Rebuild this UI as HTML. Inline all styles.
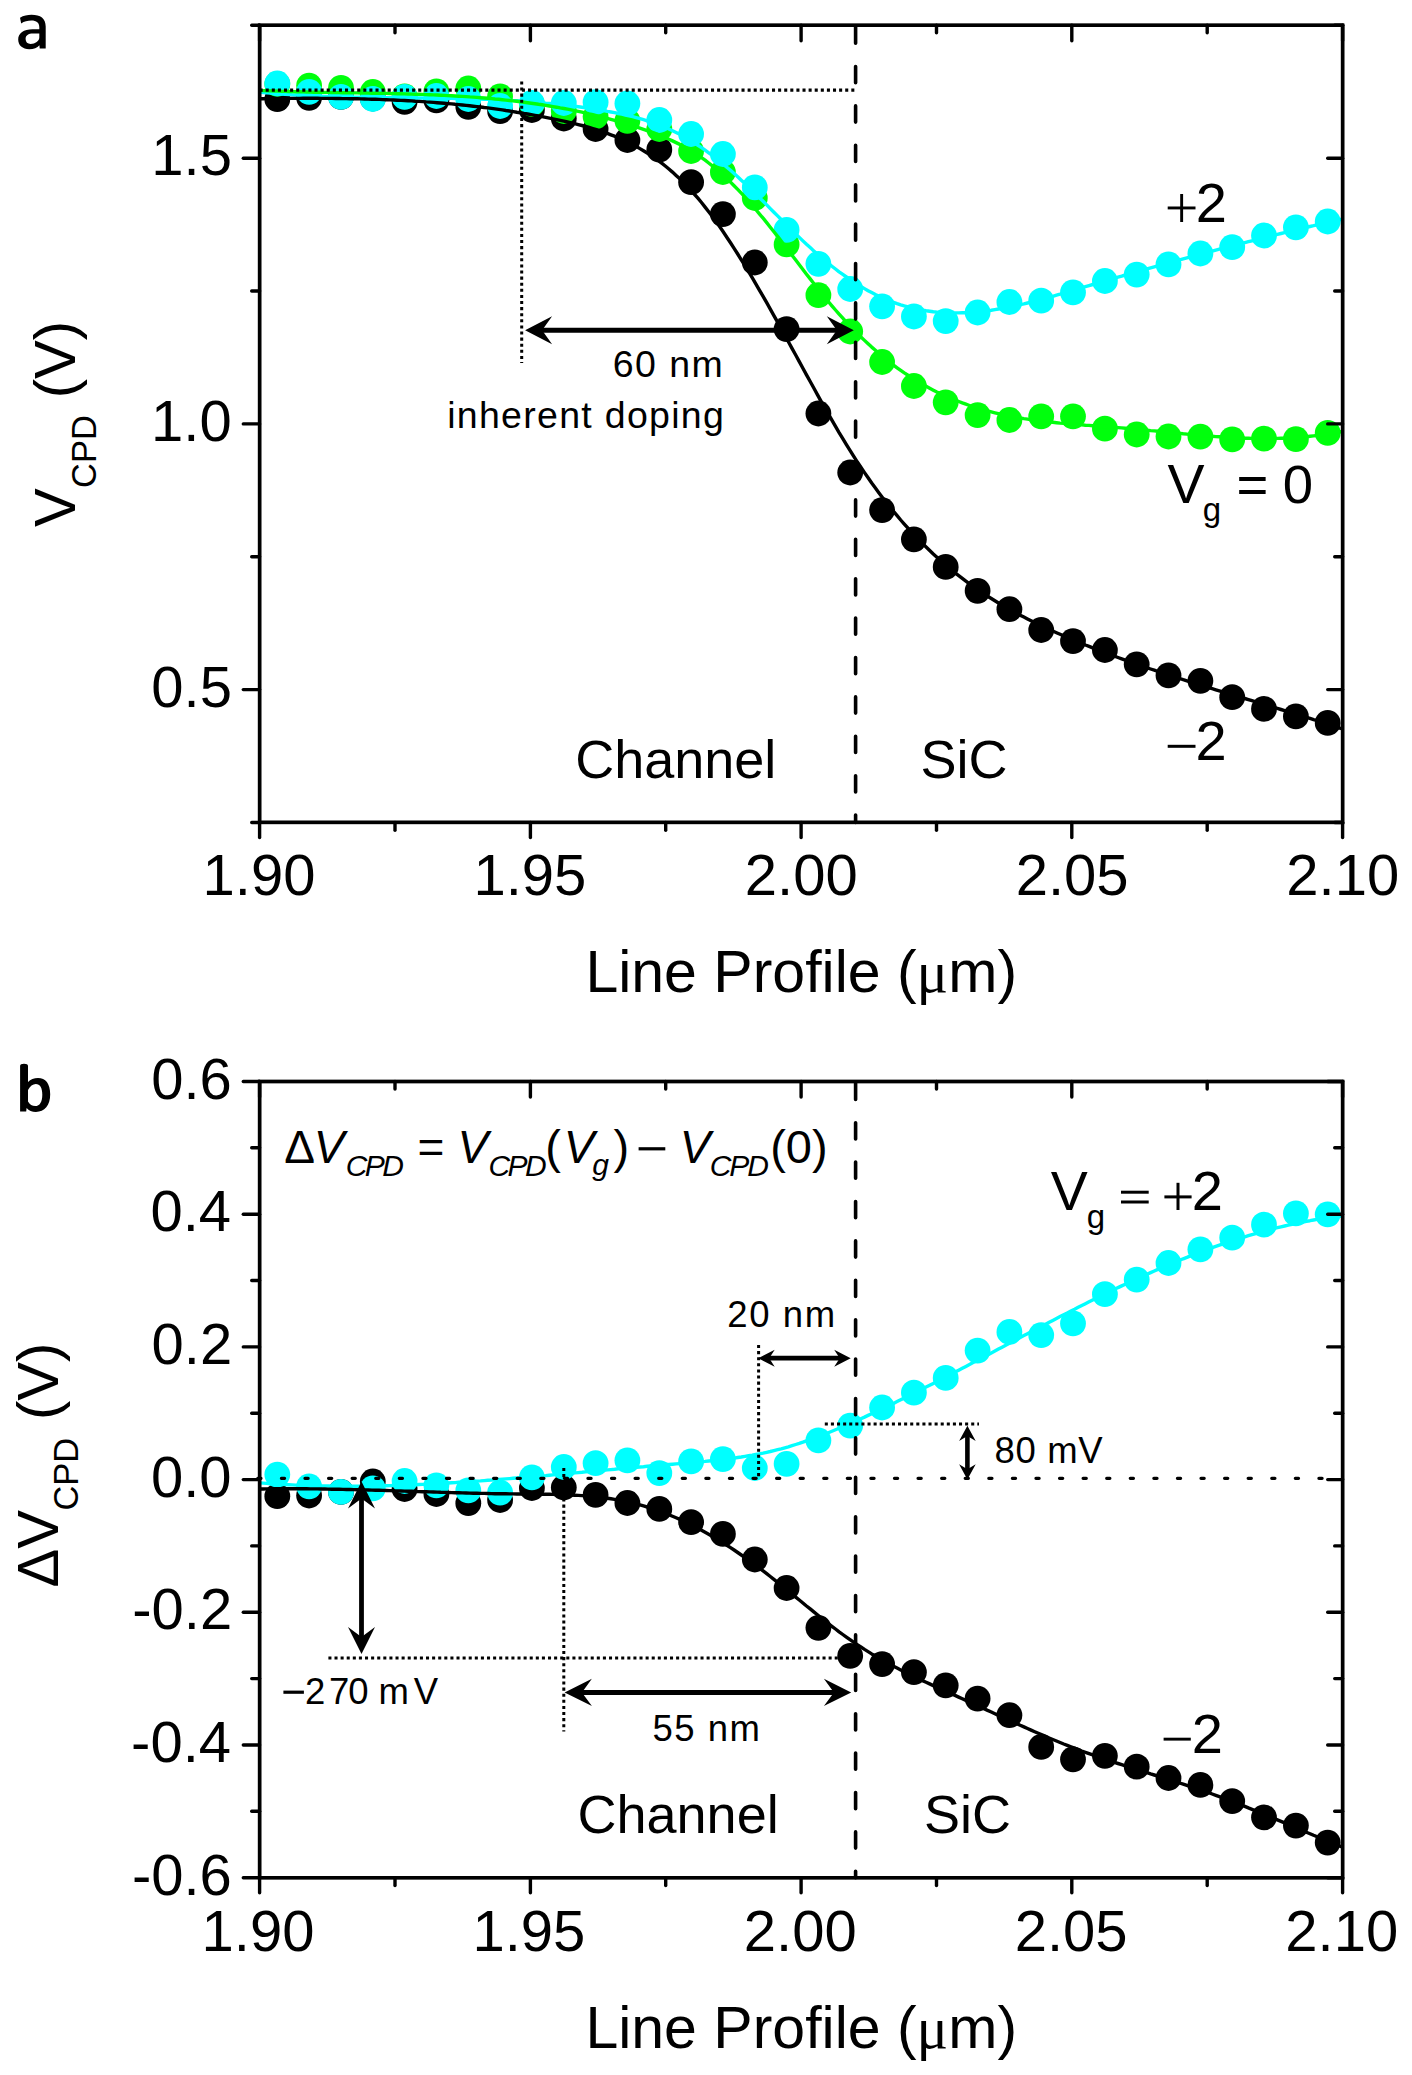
<!DOCTYPE html>
<html><head><meta charset="utf-8"><style>
html,body{margin:0;padding:0;background:#fff;width:1412px;height:2075px;overflow:hidden;}
svg{display:block;font-family:"Liberation Sans",sans-serif;}
</style></head><body>
<svg width="1412" height="2075" viewBox="0 0 1412 2075" font-family="Liberation Sans, sans-serif" fill="#000">
<rect width="1412" height="2075" fill="#fff"/>
<circle cx="277.3" cy="99.2" r="12.9" fill="#000"/><circle cx="309.1" cy="97.8" r="12.9" fill="#000"/><circle cx="341.0" cy="96.8" r="12.9" fill="#000"/><circle cx="372.8" cy="98.5" r="12.9" fill="#000"/><circle cx="404.6" cy="101.8" r="12.9" fill="#000"/><circle cx="436.4" cy="100.4" r="12.9" fill="#000"/><circle cx="468.3" cy="106.8" r="12.9" fill="#000"/><circle cx="500.1" cy="111.1" r="12.9" fill="#000"/><circle cx="531.9" cy="110.0" r="12.9" fill="#000"/><circle cx="563.8" cy="118.5" r="12.9" fill="#000"/><circle cx="595.6" cy="129.0" r="12.9" fill="#000"/><circle cx="627.4" cy="140.0" r="12.9" fill="#000"/><circle cx="659.3" cy="149.7" r="12.9" fill="#000"/><circle cx="691.1" cy="182.2" r="12.9" fill="#000"/><circle cx="722.9" cy="214.1" r="12.9" fill="#000"/><circle cx="754.8" cy="262.5" r="12.9" fill="#000"/><circle cx="786.6" cy="329.1" r="12.9" fill="#000"/><circle cx="818.4" cy="413.5" r="12.9" fill="#000"/><circle cx="850.2" cy="472.5" r="12.9" fill="#000"/><circle cx="882.1" cy="510.1" r="12.9" fill="#000"/><circle cx="913.9" cy="539.3" r="12.9" fill="#000"/><circle cx="945.7" cy="566.9" r="12.9" fill="#000"/><circle cx="977.6" cy="590.8" r="12.9" fill="#000"/><circle cx="1009.4" cy="609.2" r="12.9" fill="#000"/><circle cx="1041.2" cy="630.0" r="12.9" fill="#000"/><circle cx="1073.0" cy="641.1" r="12.9" fill="#000"/><circle cx="1104.9" cy="650.0" r="12.9" fill="#000"/><circle cx="1136.7" cy="664.3" r="12.9" fill="#000"/><circle cx="1168.5" cy="675.4" r="12.9" fill="#000"/><circle cx="1200.4" cy="680.8" r="12.9" fill="#000"/><circle cx="1232.2" cy="697.2" r="12.9" fill="#000"/><circle cx="1264.0" cy="708.9" r="12.9" fill="#000"/><circle cx="1295.9" cy="716.4" r="12.9" fill="#000"/><circle cx="1327.7" cy="722.9" r="12.9" fill="#000"/>
<circle cx="277.3" cy="84.0" r="12.9" fill="#00FF0C"/><circle cx="309.1" cy="85.6" r="12.9" fill="#00FF0C"/><circle cx="341.0" cy="87.8" r="12.9" fill="#00FF0C"/><circle cx="372.8" cy="92.0" r="12.9" fill="#00FF0C"/><circle cx="404.6" cy="96.3" r="12.9" fill="#00FF0C"/><circle cx="436.4" cy="91.3" r="12.9" fill="#00FF0C"/><circle cx="468.3" cy="88.5" r="12.9" fill="#00FF0C"/><circle cx="500.1" cy="96.3" r="12.9" fill="#00FF0C"/><circle cx="531.9" cy="104.0" r="12.9" fill="#00FF0C"/><circle cx="563.8" cy="111.0" r="12.9" fill="#00FF0C"/><circle cx="595.6" cy="116.5" r="12.9" fill="#00FF0C"/><circle cx="627.4" cy="120.8" r="12.9" fill="#00FF0C"/><circle cx="659.3" cy="129.0" r="12.9" fill="#00FF0C"/><circle cx="691.1" cy="151.0" r="12.9" fill="#00FF0C"/><circle cx="722.9" cy="172.0" r="12.9" fill="#00FF0C"/><circle cx="754.8" cy="198.0" r="12.9" fill="#00FF0C"/><circle cx="786.6" cy="244.4" r="12.9" fill="#00FF0C"/><circle cx="818.4" cy="295.1" r="12.9" fill="#00FF0C"/><circle cx="850.2" cy="331.5" r="12.9" fill="#00FF0C"/><circle cx="882.1" cy="362.0" r="12.9" fill="#00FF0C"/><circle cx="913.9" cy="386.0" r="12.9" fill="#00FF0C"/><circle cx="945.7" cy="402.3" r="12.9" fill="#00FF0C"/><circle cx="977.6" cy="415.1" r="12.9" fill="#00FF0C"/><circle cx="1009.4" cy="420.0" r="12.9" fill="#00FF0C"/><circle cx="1041.2" cy="416.3" r="12.9" fill="#00FF0C"/><circle cx="1073.0" cy="416.3" r="12.9" fill="#00FF0C"/><circle cx="1104.9" cy="428.7" r="12.9" fill="#00FF0C"/><circle cx="1136.7" cy="434.5" r="12.9" fill="#00FF0C"/><circle cx="1168.5" cy="436.5" r="12.9" fill="#00FF0C"/><circle cx="1200.4" cy="436.6" r="12.9" fill="#00FF0C"/><circle cx="1232.2" cy="439.4" r="12.9" fill="#00FF0C"/><circle cx="1264.0" cy="438.6" r="12.9" fill="#00FF0C"/><circle cx="1295.9" cy="439.1" r="12.9" fill="#00FF0C"/><circle cx="1327.7" cy="432.9" r="12.9" fill="#00FF0C"/>
<circle cx="277.3" cy="83.5" r="12.9" fill="#00FFFF"/><circle cx="309.1" cy="91.9" r="12.9" fill="#00FFFF"/><circle cx="341.0" cy="96.9" r="12.9" fill="#00FFFF"/><circle cx="372.8" cy="99.0" r="12.9" fill="#00FFFF"/><circle cx="404.6" cy="96.9" r="12.9" fill="#00FFFF"/><circle cx="436.4" cy="96.0" r="12.9" fill="#00FFFF"/><circle cx="468.3" cy="99.0" r="12.9" fill="#00FFFF"/><circle cx="500.1" cy="106.0" r="12.9" fill="#00FFFF"/><circle cx="531.9" cy="103.0" r="12.9" fill="#00FFFF"/><circle cx="563.8" cy="103.0" r="12.9" fill="#00FFFF"/><circle cx="595.6" cy="102.2" r="12.9" fill="#00FFFF"/><circle cx="627.4" cy="103.5" r="12.9" fill="#00FFFF"/><circle cx="659.3" cy="120.0" r="12.9" fill="#00FFFF"/><circle cx="691.1" cy="134.0" r="12.9" fill="#00FFFF"/><circle cx="722.9" cy="154.0" r="12.9" fill="#00FFFF"/><circle cx="754.8" cy="187.4" r="12.9" fill="#00FFFF"/><circle cx="786.6" cy="229.8" r="12.9" fill="#00FFFF"/><circle cx="818.4" cy="263.8" r="12.9" fill="#00FFFF"/><circle cx="850.2" cy="289.0" r="12.9" fill="#00FFFF"/><circle cx="882.1" cy="306.3" r="12.9" fill="#00FFFF"/><circle cx="913.9" cy="316.5" r="12.9" fill="#00FFFF"/><circle cx="945.7" cy="321.1" r="12.9" fill="#00FFFF"/><circle cx="977.6" cy="312.5" r="12.9" fill="#00FFFF"/><circle cx="1009.4" cy="302.0" r="12.9" fill="#00FFFF"/><circle cx="1041.2" cy="300.7" r="12.9" fill="#00FFFF"/><circle cx="1073.0" cy="292.4" r="12.9" fill="#00FFFF"/><circle cx="1104.9" cy="281.0" r="12.9" fill="#00FFFF"/><circle cx="1136.7" cy="274.6" r="12.9" fill="#00FFFF"/><circle cx="1168.5" cy="264.4" r="12.9" fill="#00FFFF"/><circle cx="1200.4" cy="253.5" r="12.9" fill="#00FFFF"/><circle cx="1232.2" cy="247.1" r="12.9" fill="#00FFFF"/><circle cx="1264.0" cy="235.5" r="12.9" fill="#00FFFF"/><circle cx="1295.9" cy="227.3" r="12.9" fill="#00FFFF"/><circle cx="1327.7" cy="221.5" r="12.9" fill="#00FFFF"/>
<path d="M259.6,92.1 L263.2,92.5 L266.8,92.8 L270.5,93.1 L274.1,93.4 L277.7,93.7 L281.3,94.0 L285.0,94.3 L288.6,94.5 L292.2,94.8 L295.8,95.0 L299.4,95.2 L303.1,95.4 L306.7,95.6 L310.3,95.8 L313.9,95.9 L317.6,96.1 L321.2,96.2 L324.8,96.4 L328.4,96.5 L332.0,96.6 L335.7,96.7 L339.3,96.9 L342.9,97.0 L346.5,97.0 L350.2,97.1 L353.8,97.2 L357.4,97.3 L361.0,97.3 L364.6,97.4 L368.3,97.5 L371.9,97.5 L375.5,97.6 L379.1,97.6 L382.8,97.6 L386.4,97.7 L390.0,97.7 L393.6,97.8 L397.2,97.8 L400.9,97.8 L404.5,97.9 L408.1,97.9 L411.7,97.9 L415.3,98.0 L419.0,98.0 L422.6,98.0 L426.2,98.1 L429.8,98.1 L433.5,98.2 L437.1,98.2 L440.7,98.3 L444.3,98.3 L447.9,98.4 L451.6,98.4 L455.2,98.5 L458.8,98.6 L462.4,98.6 L466.1,98.7 L469.7,98.8 L473.3,98.9 L476.9,99.0 L480.5,99.1 L484.2,99.3 L487.8,99.4 L491.4,99.5 L495.0,99.7 L498.7,99.9 L502.3,100.0 L505.9,100.2 L509.5,100.4 L513.1,100.6 L516.8,100.8 L520.4,101.1 L524.0,101.3 L527.6,101.6 L531.3,101.8 L534.9,102.1 L538.5,102.4 L542.1,102.7 L545.7,103.1 L549.4,103.4 L553.0,103.8 L556.6,104.1 L560.2,104.5 L563.9,104.9 L567.5,105.4 L571.1,105.8 L574.7,106.3 L578.3,106.8 L582.0,107.3 L585.6,107.8 L589.2,108.3 L592.8,108.9 L596.5,109.5 L600.1,110.1 L603.7,110.7 L607.3,111.4 L610.9,112.0 L614.6,112.7 L618.2,113.5 L621.8,114.2 L625.4,115.0 L629.1,115.9 L632.7,116.7 L636.3,117.7 L639.9,118.7 L643.5,119.7 L647.2,120.8 L650.8,122.0 L654.4,123.2 L658.0,124.6 L661.7,126.0 L665.3,127.5 L668.9,129.0 L672.5,130.7 L676.1,132.5 L679.8,134.3 L683.4,136.3 L687.0,138.4 L690.6,140.6 L694.2,142.8 L697.9,145.2 L701.5,147.6 L705.1,150.2 L708.7,152.8 L712.4,155.5 L716.0,158.3 L719.6,161.2 L723.2,164.2 L726.8,167.2 L730.5,170.3 L734.1,173.6 L737.7,176.8 L741.3,180.2 L745.0,183.6 L748.6,187.1 L752.2,190.6 L755.8,194.1 L759.4,197.7 L763.1,201.3 L766.7,204.9 L770.3,208.6 L773.9,212.2 L777.6,215.9 L781.2,219.5 L784.8,223.1 L788.4,226.8 L792.0,230.3 L795.7,233.9 L799.3,237.4 L802.9,240.9 L806.5,244.3 L810.2,247.6 L813.8,250.9 L817.4,254.1 L821.0,257.3 L824.6,260.3 L828.3,263.3 L831.9,266.2 L835.5,269.0 L839.1,271.8 L842.8,274.4 L846.4,277.0 L850.0,279.5 L853.6,281.9 L857.2,284.2 L860.9,286.5 L864.5,288.6 L868.1,290.7 L871.7,292.6 L875.4,294.5 L879.0,296.2 L882.6,297.9 L886.2,299.5 L889.8,300.9 L893.5,302.3 L897.1,303.6 L900.7,304.8 L904.3,305.9 L908.0,306.9 L911.6,307.8 L915.2,308.7 L918.8,309.4 L922.4,310.1 L926.1,310.7 L929.7,311.2 L933.3,311.7 L936.9,312.1 L940.5,312.4 L944.2,312.6 L947.8,312.8 L951.4,312.9 L955.0,312.9 L958.7,312.9 L962.3,312.8 L965.9,312.7 L969.5,312.5 L973.1,312.2 L976.8,311.9 L980.4,311.6 L984.0,311.1 L987.6,310.7 L991.3,310.2 L994.9,309.6 L998.5,309.0 L1002.1,308.4 L1005.7,307.7 L1009.4,307.0 L1013.0,306.3 L1016.6,305.5 L1020.2,304.7 L1023.9,303.9 L1027.5,303.0 L1031.1,302.1 L1034.7,301.2 L1038.3,300.2 L1042.0,299.3 L1045.6,298.3 L1049.2,297.3 L1052.8,296.3 L1056.5,295.2 L1060.1,294.2 L1063.7,293.1 L1067.3,292.1 L1070.9,291.0 L1074.6,289.9 L1078.2,288.8 L1081.8,287.8 L1085.4,286.7 L1089.1,285.6 L1092.7,284.5 L1096.3,283.5 L1099.9,282.4 L1103.5,281.3 L1107.2,280.3 L1110.8,279.2 L1114.4,278.2 L1118.0,277.1 L1121.7,276.1 L1125.3,275.0 L1128.9,274.0 L1132.5,272.9 L1136.1,271.9 L1139.8,270.9 L1143.4,269.9 L1147.0,268.8 L1150.6,267.8 L1154.3,266.8 L1157.9,265.8 L1161.5,264.8 L1165.1,263.8 L1168.7,262.8 L1172.4,261.8 L1176.0,260.8 L1179.6,259.8 L1183.2,258.8 L1186.9,257.8 L1190.5,256.9 L1194.1,255.9 L1197.7,254.9 L1201.3,254.0 L1205.0,253.0 L1208.6,252.0 L1212.2,251.1 L1215.8,250.1 L1219.4,249.2 L1223.1,248.2 L1226.7,247.3 L1230.3,246.3 L1233.9,245.4 L1237.6,244.5 L1241.2,243.5 L1244.8,242.6 L1248.4,241.7 L1252.0,240.8 L1255.7,239.9 L1259.3,238.9 L1262.9,238.0 L1266.5,237.1 L1270.2,236.2 L1273.8,235.3 L1277.4,234.4 L1281.0,233.5 L1284.6,232.7 L1288.3,231.8 L1291.9,230.9 L1295.5,230.0 L1299.1,229.1 L1302.8,228.3 L1306.4,227.4 L1310.0,226.5 L1313.6,225.7 L1317.2,224.8 L1320.9,224.0 L1324.5,223.1 L1328.1,222.3 L1331.7,221.4 L1335.4,220.6 L1339.0,219.8 L1342.6,218.9" fill="none" stroke="#00FFFF" stroke-width="3.4" stroke-linejoin="round"/>
<path d="M259.6,90.4 L263.2,90.6 L266.8,90.7 L270.5,90.9 L274.1,91.0 L277.7,91.1 L281.3,91.3 L285.0,91.4 L288.6,91.5 L292.2,91.6 L295.8,91.7 L299.4,91.8 L303.1,91.9 L306.7,92.0 L310.3,92.1 L313.9,92.2 L317.6,92.2 L321.2,92.3 L324.8,92.4 L328.4,92.4 L332.0,92.5 L335.7,92.6 L339.3,92.6 L342.9,92.7 L346.5,92.7 L350.2,92.8 L353.8,92.9 L357.4,92.9 L361.0,93.0 L364.6,93.0 L368.3,93.1 L371.9,93.2 L375.5,93.2 L379.1,93.3 L382.8,93.4 L386.4,93.4 L390.0,93.5 L393.6,93.6 L397.2,93.7 L400.9,93.8 L404.5,93.9 L408.1,94.0 L411.7,94.1 L415.3,94.2 L419.0,94.3 L422.6,94.4 L426.2,94.6 L429.8,94.7 L433.5,94.9 L437.1,95.0 L440.7,95.2 L444.3,95.4 L447.9,95.6 L451.6,95.8 L455.2,96.0 L458.8,96.2 L462.4,96.4 L466.1,96.6 L469.7,96.9 L473.3,97.1 L476.9,97.4 L480.5,97.7 L484.2,98.0 L487.8,98.3 L491.4,98.6 L495.0,99.0 L498.7,99.3 L502.3,99.7 L505.9,100.1 L509.5,100.5 L513.1,100.9 L516.8,101.3 L520.4,101.8 L524.0,102.2 L527.6,102.7 L531.3,103.2 L534.9,103.7 L538.5,104.3 L542.1,104.8 L545.7,105.4 L549.4,106.0 L553.0,106.6 L556.6,107.2 L560.2,107.9 L563.9,108.5 L567.5,109.2 L571.1,109.9 L574.7,110.7 L578.3,111.4 L582.0,112.2 L585.6,113.0 L589.2,113.9 L592.8,114.7 L596.5,115.6 L600.1,116.5 L603.7,117.4 L607.3,118.4 L610.9,119.3 L614.6,120.3 L618.2,121.4 L621.8,122.4 L625.4,123.5 L629.1,124.6 L632.7,125.8 L636.3,126.9 L639.9,128.1 L643.5,129.3 L647.2,130.6 L650.8,131.9 L654.4,133.2 L658.0,134.6 L661.7,136.1 L665.3,137.6 L668.9,139.2 L672.5,140.9 L676.1,142.6 L679.8,144.4 L683.4,146.4 L687.0,148.4 L690.6,150.5 L694.2,152.8 L697.9,155.1 L701.5,157.6 L705.1,160.2 L708.7,163.0 L712.4,165.9 L716.0,168.9 L719.6,172.0 L723.2,175.2 L726.8,178.6 L730.5,182.1 L734.1,185.7 L737.7,189.4 L741.3,193.2 L745.0,197.1 L748.6,201.1 L752.2,205.2 L755.8,209.5 L759.4,213.8 L763.1,218.2 L766.7,222.6 L770.3,227.2 L773.9,231.8 L777.6,236.4 L781.2,241.1 L784.8,245.8 L788.4,250.5 L792.0,255.3 L795.7,260.0 L799.3,264.8 L802.9,269.5 L806.5,274.2 L810.2,278.9 L813.8,283.5 L817.4,288.1 L821.0,292.6 L824.6,297.1 L828.3,301.5 L831.9,305.8 L835.5,310.0 L839.1,314.1 L842.8,318.2 L846.4,322.1 L850.0,325.9 L853.6,329.7 L857.2,333.4 L860.9,336.9 L864.5,340.4 L868.1,343.8 L871.7,347.1 L875.4,350.3 L879.0,353.5 L882.6,356.5 L886.2,359.5 L889.8,362.3 L893.5,365.1 L897.1,367.8 L900.7,370.4 L904.3,372.9 L908.0,375.3 L911.6,377.7 L915.2,380.0 L918.8,382.2 L922.4,384.3 L926.1,386.3 L929.7,388.3 L933.3,390.2 L936.9,392.0 L940.5,393.7 L944.2,395.4 L947.8,397.1 L951.4,398.6 L955.0,400.1 L958.7,401.5 L962.3,402.9 L965.9,404.2 L969.5,405.5 L973.1,406.7 L976.8,407.8 L980.4,408.9 L984.0,410.0 L987.6,410.9 L991.3,411.9 L994.9,412.8 L998.5,413.7 L1002.1,414.5 L1005.7,415.3 L1009.4,416.0 L1013.0,416.7 L1016.6,417.3 L1020.2,418.0 L1023.9,418.6 L1027.5,419.1 L1031.1,419.7 L1034.7,420.2 L1038.3,420.7 L1042.0,421.1 L1045.6,421.5 L1049.2,421.9 L1052.8,422.3 L1056.5,422.7 L1060.1,423.1 L1063.7,423.4 L1067.3,423.7 L1070.9,424.0 L1074.6,424.3 L1078.2,424.6 L1081.8,424.9 L1085.4,425.2 L1089.1,425.4 L1092.7,425.7 L1096.3,426.0 L1099.9,426.2 L1103.5,426.5 L1107.2,426.8 L1110.8,427.0 L1114.4,427.3 L1118.0,427.6 L1121.7,427.9 L1125.3,428.2 L1128.9,428.5 L1132.5,428.9 L1136.1,429.2 L1139.8,429.5 L1143.4,429.9 L1147.0,430.2 L1150.6,430.6 L1154.3,430.9 L1157.9,431.3 L1161.5,431.7 L1165.1,432.0 L1168.7,432.4 L1172.4,432.7 L1176.0,433.1 L1179.6,433.4 L1183.2,433.8 L1186.9,434.1 L1190.5,434.5 L1194.1,434.8 L1197.7,435.1 L1201.3,435.4 L1205.0,435.7 L1208.6,436.0 L1212.2,436.3 L1215.8,436.6 L1219.4,436.8 L1223.1,437.1 L1226.7,437.3 L1230.3,437.5 L1233.9,437.7 L1237.6,437.9 L1241.2,438.0 L1244.8,438.2 L1248.4,438.3 L1252.0,438.4 L1255.7,438.5 L1259.3,438.5 L1262.9,438.5 L1266.5,438.5 L1270.2,438.5 L1273.8,438.5 L1277.4,438.4 L1281.0,438.3 L1284.6,438.2 L1288.3,438.0 L1291.9,437.8 L1295.5,437.6 L1299.1,437.3 L1302.8,437.0 L1306.4,436.7 L1310.0,436.3 L1313.6,435.9 L1317.2,435.5 L1320.9,435.0 L1324.5,434.5 L1328.1,433.9 L1331.7,433.4 L1335.4,432.7 L1339.0,432.0 L1342.6,431.3" fill="none" stroke="#00FF0C" stroke-width="3.4" stroke-linejoin="round"/>
<path d="M259.6,98.7 L263.2,98.7 L266.8,98.6 L270.5,98.6 L274.1,98.5 L277.7,98.5 L281.3,98.5 L285.0,98.4 L288.6,98.4 L292.2,98.4 L295.8,98.4 L299.4,98.4 L303.1,98.3 L306.7,98.3 L310.3,98.3 L313.9,98.3 L317.6,98.3 L321.2,98.4 L324.8,98.4 L328.4,98.4 L332.0,98.4 L335.7,98.5 L339.3,98.5 L342.9,98.6 L346.5,98.6 L350.2,98.7 L353.8,98.7 L357.4,98.8 L361.0,98.9 L364.6,99.0 L368.3,99.1 L371.9,99.2 L375.5,99.3 L379.1,99.4 L382.8,99.6 L386.4,99.7 L390.0,99.9 L393.6,100.0 L397.2,100.2 L400.9,100.4 L404.5,100.5 L408.1,100.7 L411.7,100.9 L415.3,101.2 L419.0,101.4 L422.6,101.6 L426.2,101.9 L429.8,102.1 L433.5,102.4 L437.1,102.7 L440.7,103.0 L444.3,103.3 L447.9,103.6 L451.6,103.9 L455.2,104.3 L458.8,104.6 L462.4,105.0 L466.1,105.4 L469.7,105.8 L473.3,106.2 L476.9,106.6 L480.5,107.0 L484.2,107.5 L487.8,107.9 L491.4,108.4 L495.0,108.9 L498.7,109.4 L502.3,109.9 L505.9,110.5 L509.5,111.0 L513.1,111.6 L516.8,112.2 L520.4,112.7 L524.0,113.4 L527.6,114.0 L531.3,114.6 L534.9,115.3 L538.5,116.0 L542.1,116.7 L545.7,117.4 L549.4,118.1 L553.0,118.8 L556.6,119.6 L560.2,120.4 L563.9,121.2 L567.5,122.0 L571.1,122.8 L574.7,123.7 L578.3,124.6 L582.0,125.5 L585.6,126.5 L589.2,127.5 L592.8,128.6 L596.5,129.7 L600.1,130.9 L603.7,132.1 L607.3,133.4 L610.9,134.8 L614.6,136.2 L618.2,137.7 L621.8,139.3 L625.4,141.0 L629.1,142.7 L632.7,144.6 L636.3,146.5 L639.9,148.6 L643.5,150.7 L647.2,153.0 L650.8,155.3 L654.4,157.8 L658.0,160.4 L661.7,163.2 L665.3,166.0 L668.9,169.0 L672.5,172.1 L676.1,175.4 L679.8,178.8 L683.4,182.4 L687.0,186.1 L690.6,190.0 L694.2,194.0 L697.9,198.2 L701.5,202.5 L705.1,207.1 L708.7,211.7 L712.4,216.6 L716.0,221.5 L719.6,226.6 L723.2,231.8 L726.8,237.2 L730.5,242.7 L734.1,248.3 L737.7,254.0 L741.3,259.8 L745.0,265.7 L748.6,271.6 L752.2,277.7 L755.8,283.9 L759.4,290.1 L763.1,296.4 L766.7,302.7 L770.3,309.1 L773.9,315.6 L777.6,322.1 L781.2,328.6 L784.8,335.2 L788.4,341.8 L792.0,348.4 L795.7,355.0 L799.3,361.6 L802.9,368.3 L806.5,374.9 L810.2,381.5 L813.8,388.0 L817.4,394.6 L821.0,401.1 L824.6,407.5 L828.3,413.9 L831.9,420.2 L835.5,426.4 L839.1,432.6 L842.8,438.6 L846.4,444.6 L850.0,450.4 L853.6,456.2 L857.2,461.8 L860.9,467.2 L864.5,472.6 L868.1,477.8 L871.7,483.0 L875.4,488.0 L879.0,492.9 L882.6,497.7 L886.2,502.3 L889.8,506.9 L893.5,511.4 L897.1,515.7 L900.7,520.0 L904.3,524.1 L908.0,528.2 L911.6,532.1 L915.2,536.0 L918.8,539.8 L922.4,543.4 L926.1,547.0 L929.7,550.5 L933.3,554.0 L936.9,557.3 L940.5,560.5 L944.2,563.7 L947.8,566.8 L951.4,569.8 L955.0,572.8 L958.7,575.6 L962.3,578.4 L965.9,581.2 L969.5,583.8 L973.1,586.4 L976.8,589.0 L980.4,591.5 L984.0,593.9 L987.6,596.2 L991.3,598.5 L994.9,600.8 L998.5,603.0 L1002.1,605.1 L1005.7,607.2 L1009.4,609.3 L1013.0,611.3 L1016.6,613.3 L1020.2,615.2 L1023.9,617.1 L1027.5,618.9 L1031.1,620.8 L1034.7,622.6 L1038.3,624.3 L1042.0,626.0 L1045.6,627.7 L1049.2,629.4 L1052.8,631.0 L1056.5,632.7 L1060.1,634.3 L1063.7,635.9 L1067.3,637.4 L1070.9,639.0 L1074.6,640.5 L1078.2,642.0 L1081.8,643.5 L1085.4,645.0 L1089.1,646.4 L1092.7,647.9 L1096.3,649.3 L1099.9,650.7 L1103.5,652.1 L1107.2,653.5 L1110.8,654.9 L1114.4,656.2 L1118.0,657.5 L1121.7,658.9 L1125.3,660.2 L1128.9,661.5 L1132.5,662.8 L1136.1,664.0 L1139.8,665.3 L1143.4,666.6 L1147.0,667.8 L1150.6,669.0 L1154.3,670.2 L1157.9,671.5 L1161.5,672.7 L1165.1,673.8 L1168.7,675.0 L1172.4,676.2 L1176.0,677.4 L1179.6,678.5 L1183.2,679.7 L1186.9,680.8 L1190.5,682.0 L1194.1,683.1 L1197.7,684.2 L1201.3,685.4 L1205.0,686.5 L1208.6,687.6 L1212.2,688.7 L1215.8,689.8 L1219.4,690.9 L1223.1,692.0 L1226.7,693.1 L1230.3,694.2 L1233.9,695.3 L1237.6,696.4 L1241.2,697.5 L1244.8,698.5 L1248.4,699.6 L1252.0,700.7 L1255.7,701.8 L1259.3,702.9 L1262.9,704.0 L1266.5,705.1 L1270.2,706.2 L1273.8,707.3 L1277.4,708.4 L1281.0,709.5 L1284.6,710.6 L1288.3,711.7 L1291.9,712.8 L1295.5,713.9 L1299.1,715.0 L1302.8,716.2 L1306.4,717.3 L1310.0,718.4 L1313.6,719.6 L1317.2,720.7 L1320.9,721.9 L1324.5,723.0 L1328.1,724.2 L1331.7,725.4 L1335.4,726.6 L1339.0,727.8 L1342.6,729.0" fill="none" stroke="#000" stroke-width="3.4" stroke-linejoin="round"/>
<line x1="259.6" y1="90.2" x2="855.6" y2="90.2" stroke="#000" stroke-width="3.2" stroke-dasharray="3.05 3.05"/>
<line x1="521.7" y1="81.4" x2="521.7" y2="363" stroke="#000" stroke-width="3" stroke-dasharray="3.05 3.05"/>
<line x1="855.6" y1="27.1" x2="855.6" y2="822.5" stroke="#000" stroke-width="3.6" stroke-linecap="round" stroke-dasharray="16.2 23.2"/>
<line x1="541.1" y1="330.2" x2="837.8" y2="330.2" stroke="#000" stroke-width="5"/>
<path d="M853.8,330.2 L826.8,344.2 L836.8,330.2 L826.8,316.2 Z" fill="#000"/>
<path d="M525.1,330.2 L552.1,316.2 L542.1,330.2 L552.1,344.2 Z" fill="#000"/>
<rect x="259.6" y="25.3" width="1083.0" height="797.1" fill="none" stroke="#000" stroke-width="3.4"/>
<g stroke="#000" stroke-width="3.4" stroke-linecap="round">
<line x1="259.6" y1="822.5" x2="259.6" y2="837.5"/>
<line x1="259.6" y1="25.3" x2="259.6" y2="40.8"/>
<line x1="530.4" y1="822.5" x2="530.4" y2="837.5"/>
<line x1="530.4" y1="25.3" x2="530.4" y2="40.8"/>
<line x1="801.1" y1="822.5" x2="801.1" y2="837.5"/>
<line x1="801.1" y1="25.3" x2="801.1" y2="40.8"/>
<line x1="1071.8" y1="822.5" x2="1071.8" y2="837.5"/>
<line x1="1071.8" y1="25.3" x2="1071.8" y2="40.8"/>
<line x1="1342.6" y1="822.5" x2="1342.6" y2="837.5"/>
<line x1="1342.6" y1="25.3" x2="1342.6" y2="40.8"/>
<line x1="395.0" y1="822.5" x2="395.0" y2="830.2"/>
<line x1="395.0" y1="25.3" x2="395.0" y2="32.8"/>
<line x1="665.7" y1="822.5" x2="665.7" y2="830.2"/>
<line x1="665.7" y1="25.3" x2="665.7" y2="32.8"/>
<line x1="936.5" y1="822.5" x2="936.5" y2="830.2"/>
<line x1="936.5" y1="25.3" x2="936.5" y2="32.8"/>
<line x1="1207.2" y1="822.5" x2="1207.2" y2="830.2"/>
<line x1="1207.2" y1="25.3" x2="1207.2" y2="32.8"/>
<line x1="243.3" y1="689.6" x2="259.6" y2="689.6"/>
<line x1="1327.7" y1="689.6" x2="1342.6" y2="689.6"/>
<line x1="243.3" y1="423.9" x2="259.6" y2="423.9"/>
<line x1="1327.7" y1="423.9" x2="1342.6" y2="423.9"/>
<line x1="243.3" y1="158.2" x2="259.6" y2="158.2"/>
<line x1="1327.7" y1="158.2" x2="1342.6" y2="158.2"/>
<line x1="251.7" y1="822.5" x2="259.6" y2="822.5"/>
<line x1="1334.7" y1="822.5" x2="1342.6" y2="822.5"/>
<line x1="251.7" y1="556.8" x2="259.6" y2="556.8"/>
<line x1="1334.7" y1="556.8" x2="1342.6" y2="556.8"/>
<line x1="251.7" y1="291.0" x2="259.6" y2="291.0"/>
<line x1="1334.7" y1="291.0" x2="1342.6" y2="291.0"/>
<line x1="251.7" y1="25.3" x2="259.6" y2="25.3"/>
<line x1="1334.7" y1="25.3" x2="1342.6" y2="25.3"/>
</g>
<rect x="259.6" y="25.3" width="1083.0" height="797.1" fill="none" stroke="#000" stroke-width="3.4"/>
<circle cx="277.3" cy="1496.2" r="12.9" fill="#000"/><circle cx="309.1" cy="1495.5" r="12.9" fill="#000"/><circle cx="341.0" cy="1491.9" r="12.9" fill="#000"/><circle cx="372.8" cy="1481.5" r="12.9" fill="#000"/><circle cx="404.6" cy="1489.0" r="12.9" fill="#000"/><circle cx="436.4" cy="1494.0" r="12.9" fill="#000"/><circle cx="468.3" cy="1503.2" r="12.9" fill="#000"/><circle cx="500.1" cy="1500.0" r="12.9" fill="#000"/><circle cx="531.9" cy="1488.0" r="12.9" fill="#000"/><circle cx="563.8" cy="1487.5" r="12.9" fill="#000"/><circle cx="595.6" cy="1494.9" r="12.9" fill="#000"/><circle cx="627.4" cy="1503.0" r="12.9" fill="#000"/><circle cx="659.3" cy="1508.9" r="12.9" fill="#000"/><circle cx="691.1" cy="1522.2" r="12.9" fill="#000"/><circle cx="722.9" cy="1533.9" r="12.9" fill="#000"/><circle cx="754.8" cy="1559.5" r="12.9" fill="#000"/><circle cx="786.6" cy="1588.0" r="12.9" fill="#000"/><circle cx="818.4" cy="1627.8" r="12.9" fill="#000"/><circle cx="850.2" cy="1655.8" r="12.9" fill="#000"/><circle cx="882.1" cy="1664.1" r="12.9" fill="#000"/><circle cx="913.9" cy="1672.2" r="12.9" fill="#000"/><circle cx="945.7" cy="1685.4" r="12.9" fill="#000"/><circle cx="977.6" cy="1698.6" r="12.9" fill="#000"/><circle cx="1009.4" cy="1715.2" r="12.9" fill="#000"/><circle cx="1041.2" cy="1746.9" r="12.9" fill="#000"/><circle cx="1073.0" cy="1759.3" r="12.9" fill="#000"/><circle cx="1104.9" cy="1755.8" r="12.9" fill="#000"/><circle cx="1136.7" cy="1766.7" r="12.9" fill="#000"/><circle cx="1168.5" cy="1778.0" r="12.9" fill="#000"/><circle cx="1200.4" cy="1784.9" r="12.9" fill="#000"/><circle cx="1232.2" cy="1801.2" r="12.9" fill="#000"/><circle cx="1264.0" cy="1817.3" r="12.9" fill="#000"/><circle cx="1295.9" cy="1825.6" r="12.9" fill="#000"/><circle cx="1327.7" cy="1842.6" r="12.9" fill="#000"/>
<circle cx="277.3" cy="1474.6" r="12.9" fill="#00FFFF"/><circle cx="309.1" cy="1486.3" r="12.9" fill="#00FFFF"/><circle cx="341.0" cy="1491.9" r="12.9" fill="#00FFFF"/><circle cx="372.8" cy="1488.4" r="12.9" fill="#00FFFF"/><circle cx="404.6" cy="1481.0" r="12.9" fill="#00FFFF"/><circle cx="436.4" cy="1485.3" r="12.9" fill="#00FFFF"/><circle cx="468.3" cy="1490.4" r="12.9" fill="#00FFFF"/><circle cx="500.1" cy="1492.6" r="12.9" fill="#00FFFF"/><circle cx="531.9" cy="1477.4" r="12.9" fill="#00FFFF"/><circle cx="563.8" cy="1467.0" r="12.9" fill="#00FFFF"/><circle cx="595.6" cy="1463.2" r="12.9" fill="#00FFFF"/><circle cx="627.4" cy="1460.4" r="12.9" fill="#00FFFF"/><circle cx="659.3" cy="1473.1" r="12.9" fill="#00FFFF"/><circle cx="691.1" cy="1461.4" r="12.9" fill="#00FFFF"/><circle cx="722.9" cy="1459.1" r="12.9" fill="#00FFFF"/><circle cx="754.8" cy="1468.0" r="12.9" fill="#00FFFF"/><circle cx="786.6" cy="1463.8" r="12.9" fill="#00FFFF"/><circle cx="818.4" cy="1440.4" r="12.9" fill="#00FFFF"/><circle cx="850.2" cy="1425.6" r="12.9" fill="#00FFFF"/><circle cx="882.1" cy="1407.5" r="12.9" fill="#00FFFF"/><circle cx="913.9" cy="1392.7" r="12.9" fill="#00FFFF"/><circle cx="945.7" cy="1377.9" r="12.9" fill="#00FFFF"/><circle cx="977.6" cy="1350.6" r="12.9" fill="#00FFFF"/><circle cx="1009.4" cy="1331.9" r="12.9" fill="#00FFFF"/><circle cx="1041.2" cy="1335.1" r="12.9" fill="#00FFFF"/><circle cx="1073.0" cy="1323.4" r="12.9" fill="#00FFFF"/><circle cx="1104.9" cy="1294.2" r="12.9" fill="#00FFFF"/><circle cx="1136.7" cy="1279.6" r="12.9" fill="#00FFFF"/><circle cx="1168.5" cy="1263.0" r="12.9" fill="#00FFFF"/><circle cx="1200.4" cy="1249.4" r="12.9" fill="#00FFFF"/><circle cx="1232.2" cy="1237.7" r="12.9" fill="#00FFFF"/><circle cx="1264.0" cy="1224.7" r="12.9" fill="#00FFFF"/><circle cx="1295.9" cy="1213.4" r="12.9" fill="#00FFFF"/><circle cx="1327.7" cy="1214.3" r="12.9" fill="#00FFFF"/>
<path d="M259.6,1482.9 L263.2,1483.1 L266.8,1483.4 L270.5,1483.7 L274.1,1483.9 L277.7,1484.1 L281.3,1484.3 L285.0,1484.5 L288.6,1484.7 L292.2,1484.9 L295.8,1485.1 L299.4,1485.2 L303.1,1485.4 L306.7,1485.5 L310.3,1485.6 L313.9,1485.7 L317.6,1485.8 L321.2,1485.9 L324.8,1486.0 L328.4,1486.0 L332.0,1486.1 L335.7,1486.1 L339.3,1486.2 L342.9,1486.2 L346.5,1486.2 L350.2,1486.2 L353.8,1486.2 L357.4,1486.2 L361.0,1486.1 L364.6,1486.1 L368.3,1486.1 L371.9,1486.0 L375.5,1485.9 L379.1,1485.9 L382.8,1485.8 L386.4,1485.7 L390.0,1485.6 L393.6,1485.5 L397.2,1485.4 L400.9,1485.3 L404.5,1485.1 L408.1,1485.0 L411.7,1484.8 L415.3,1484.7 L419.0,1484.5 L422.6,1484.4 L426.2,1484.2 L429.8,1484.0 L433.5,1483.8 L437.1,1483.6 L440.7,1483.4 L444.3,1483.2 L447.9,1483.0 L451.6,1482.8 L455.2,1482.6 L458.8,1482.3 L462.4,1482.1 L466.1,1481.9 L469.7,1481.6 L473.3,1481.4 L476.9,1481.1 L480.5,1480.9 L484.2,1480.6 L487.8,1480.3 L491.4,1480.1 L495.0,1479.8 L498.7,1479.5 L502.3,1479.2 L505.9,1478.9 L509.5,1478.6 L513.1,1478.3 L516.8,1478.0 L520.4,1477.7 L524.0,1477.4 L527.6,1477.1 L531.3,1476.8 L534.9,1476.5 L538.5,1476.2 L542.1,1475.9 L545.7,1475.6 L549.4,1475.2 L553.0,1474.9 L556.6,1474.6 L560.2,1474.3 L563.9,1473.9 L567.5,1473.6 L571.1,1473.3 L574.7,1472.9 L578.3,1472.6 L582.0,1472.3 L585.6,1471.9 L589.2,1471.6 L592.8,1471.3 L596.5,1470.9 L600.1,1470.6 L603.7,1470.3 L607.3,1469.9 L610.9,1469.6 L614.6,1469.3 L618.2,1468.9 L621.8,1468.6 L625.4,1468.3 L629.1,1468.0 L632.7,1467.6 L636.3,1467.3 L639.9,1467.0 L643.5,1466.7 L647.2,1466.3 L650.8,1466.0 L654.4,1465.7 L658.0,1465.4 L661.7,1465.1 L665.3,1464.8 L668.9,1464.5 L672.5,1464.2 L676.1,1463.9 L679.8,1463.6 L683.4,1463.3 L687.0,1463.0 L690.6,1462.7 L694.2,1462.4 L697.9,1462.0 L701.5,1461.7 L705.1,1461.4 L708.7,1461.0 L712.4,1460.6 L716.0,1460.3 L719.6,1459.9 L723.2,1459.4 L726.8,1459.0 L730.5,1458.5 L734.1,1458.1 L737.7,1457.5 L741.3,1457.0 L745.0,1456.4 L748.6,1455.8 L752.2,1455.2 L755.8,1454.5 L759.4,1453.8 L763.1,1453.1 L766.7,1452.3 L770.3,1451.5 L773.9,1450.6 L777.6,1449.7 L781.2,1448.8 L784.8,1447.8 L788.4,1446.8 L792.0,1445.7 L795.7,1444.5 L799.3,1443.4 L802.9,1442.2 L806.5,1440.9 L810.2,1439.6 L813.8,1438.3 L817.4,1437.0 L821.0,1435.6 L824.6,1434.2 L828.3,1432.8 L831.9,1431.3 L835.5,1429.8 L839.1,1428.3 L842.8,1426.7 L846.4,1425.2 L850.0,1423.6 L853.6,1422.0 L857.2,1420.4 L860.9,1418.7 L864.5,1417.1 L868.1,1415.4 L871.7,1413.7 L875.4,1412.0 L879.0,1410.3 L882.6,1408.6 L886.2,1406.9 L889.8,1405.1 L893.5,1403.4 L897.1,1401.6 L900.7,1399.8 L904.3,1398.1 L908.0,1396.3 L911.6,1394.5 L915.2,1392.6 L918.8,1390.8 L922.4,1389.0 L926.1,1387.1 L929.7,1385.3 L933.3,1383.4 L936.9,1381.6 L940.5,1379.7 L944.2,1377.8 L947.8,1375.9 L951.4,1374.0 L955.0,1372.1 L958.7,1370.2 L962.3,1368.3 L965.9,1366.4 L969.5,1364.5 L973.1,1362.6 L976.8,1360.7 L980.4,1358.8 L984.0,1356.8 L987.6,1354.9 L991.3,1353.0 L994.9,1351.1 L998.5,1349.1 L1002.1,1347.2 L1005.7,1345.3 L1009.4,1343.3 L1013.0,1341.4 L1016.6,1339.5 L1020.2,1337.6 L1023.9,1335.6 L1027.5,1333.7 L1031.1,1331.8 L1034.7,1329.9 L1038.3,1328.0 L1042.0,1326.1 L1045.6,1324.2 L1049.2,1322.3 L1052.8,1320.4 L1056.5,1318.5 L1060.1,1316.6 L1063.7,1314.7 L1067.3,1312.9 L1070.9,1311.0 L1074.6,1309.2 L1078.2,1307.3 L1081.8,1305.5 L1085.4,1303.7 L1089.1,1301.8 L1092.7,1300.0 L1096.3,1298.2 L1099.9,1296.4 L1103.5,1294.7 L1107.2,1292.9 L1110.8,1291.1 L1114.4,1289.4 L1118.0,1287.6 L1121.7,1285.9 L1125.3,1284.2 L1128.9,1282.5 L1132.5,1280.8 L1136.1,1279.2 L1139.8,1277.5 L1143.4,1275.9 L1147.0,1274.2 L1150.6,1272.6 L1154.3,1271.0 L1157.9,1269.4 L1161.5,1267.9 L1165.1,1266.3 L1168.7,1264.8 L1172.4,1263.3 L1176.0,1261.8 L1179.6,1260.3 L1183.2,1258.8 L1186.9,1257.4 L1190.5,1255.9 L1194.1,1254.5 L1197.7,1253.1 L1201.3,1251.8 L1205.0,1250.4 L1208.6,1249.1 L1212.2,1247.7 L1215.8,1246.4 L1219.4,1245.2 L1223.1,1243.9 L1226.7,1242.7 L1230.3,1241.5 L1233.9,1240.3 L1237.6,1239.1 L1241.2,1237.9 L1244.8,1236.8 L1248.4,1235.7 L1252.0,1234.6 L1255.7,1233.6 L1259.3,1232.5 L1262.9,1231.5 L1266.5,1230.5 L1270.2,1229.6 L1273.8,1228.6 L1277.4,1227.7 L1281.0,1226.8 L1284.6,1226.0 L1288.3,1225.1 L1291.9,1224.3 L1295.5,1223.5 L1299.1,1222.8 L1302.8,1222.0 L1306.4,1221.3 L1310.0,1220.7 L1313.6,1220.0 L1317.2,1219.4 L1320.9,1218.8 L1324.5,1218.2 L1328.1,1217.7 L1331.7,1217.2 L1335.4,1216.7 L1339.0,1216.3 L1342.6,1215.9" fill="none" stroke="#00FFFF" stroke-width="3.4" stroke-linejoin="round"/>
<path d="M259.6,1489.0 L263.2,1489.0 L266.8,1488.9 L270.5,1488.9 L274.1,1488.8 L277.7,1488.8 L281.3,1488.8 L285.0,1488.8 L288.6,1488.8 L292.2,1488.8 L295.8,1488.8 L299.4,1488.8 L303.1,1488.8 L306.7,1488.8 L310.3,1488.9 L313.9,1488.9 L317.6,1488.9 L321.2,1489.0 L324.8,1489.0 L328.4,1489.1 L332.0,1489.2 L335.7,1489.2 L339.3,1489.3 L342.9,1489.4 L346.5,1489.5 L350.2,1489.5 L353.8,1489.6 L357.4,1489.7 L361.0,1489.8 L364.6,1489.9 L368.3,1490.0 L371.9,1490.1 L375.5,1490.2 L379.1,1490.3 L382.8,1490.4 L386.4,1490.5 L390.0,1490.6 L393.6,1490.8 L397.2,1490.9 L400.9,1491.0 L404.5,1491.1 L408.1,1491.2 L411.7,1491.3 L415.3,1491.5 L419.0,1491.6 L422.6,1491.7 L426.2,1491.8 L429.8,1491.9 L433.5,1492.0 L437.1,1492.1 L440.7,1492.3 L444.3,1492.4 L447.9,1492.5 L451.6,1492.6 L455.2,1492.7 L458.8,1492.8 L462.4,1492.9 L466.1,1493.0 L469.7,1493.1 L473.3,1493.2 L476.9,1493.3 L480.5,1493.4 L484.2,1493.4 L487.8,1493.5 L491.4,1493.6 L495.0,1493.7 L498.7,1493.7 L502.3,1493.8 L505.9,1493.8 L509.5,1493.9 L513.1,1493.9 L516.8,1494.0 L520.4,1494.0 L524.0,1494.0 L527.6,1494.1 L531.3,1494.1 L534.9,1494.1 L538.5,1494.2 L542.1,1494.2 L545.7,1494.3 L549.4,1494.3 L553.0,1494.4 L556.6,1494.5 L560.2,1494.6 L563.9,1494.7 L567.5,1494.8 L571.1,1495.0 L574.7,1495.2 L578.3,1495.4 L582.0,1495.6 L585.6,1495.9 L589.2,1496.2 L592.8,1496.5 L596.5,1496.9 L600.1,1497.3 L603.7,1497.8 L607.3,1498.2 L610.9,1498.8 L614.6,1499.4 L618.2,1500.0 L621.8,1500.7 L625.4,1501.4 L629.1,1502.2 L632.7,1503.0 L636.3,1503.9 L639.9,1504.9 L643.5,1505.9 L647.2,1507.0 L650.8,1508.1 L654.4,1509.3 L658.0,1510.6 L661.7,1511.9 L665.3,1513.3 L668.9,1514.8 L672.5,1516.3 L676.1,1517.8 L679.8,1519.4 L683.4,1521.1 L687.0,1522.8 L690.6,1524.6 L694.2,1526.4 L697.9,1528.3 L701.5,1530.3 L705.1,1532.3 L708.7,1534.3 L712.4,1536.4 L716.0,1538.6 L719.6,1540.8 L723.2,1543.0 L726.8,1545.3 L730.5,1547.6 L734.1,1550.0 L737.7,1552.5 L741.3,1555.0 L745.0,1557.5 L748.6,1560.1 L752.2,1562.7 L755.8,1565.4 L759.4,1568.1 L763.1,1570.9 L766.7,1573.7 L770.3,1576.5 L773.9,1579.4 L777.6,1582.3 L781.2,1585.2 L784.8,1588.2 L788.4,1591.1 L792.0,1594.1 L795.7,1597.1 L799.3,1600.0 L802.9,1603.0 L806.5,1606.0 L810.2,1608.9 L813.8,1611.9 L817.4,1614.8 L821.0,1617.7 L824.6,1620.6 L828.3,1623.5 L831.9,1626.3 L835.5,1629.0 L839.1,1631.8 L842.8,1634.5 L846.4,1637.1 L850.0,1639.7 L853.6,1642.2 L857.2,1644.6 L860.9,1647.0 L864.5,1649.4 L868.1,1651.6 L871.7,1653.9 L875.4,1656.0 L879.0,1658.1 L882.6,1660.2 L886.2,1662.2 L889.8,1664.2 L893.5,1666.2 L897.1,1668.1 L900.7,1669.9 L904.3,1671.8 L908.0,1673.6 L911.6,1675.4 L915.2,1677.1 L918.8,1678.8 L922.4,1680.6 L926.1,1682.2 L929.7,1683.9 L933.3,1685.6 L936.9,1687.2 L940.5,1688.9 L944.2,1690.5 L947.8,1692.2 L951.4,1693.8 L955.0,1695.4 L958.7,1697.1 L962.3,1698.7 L965.9,1700.4 L969.5,1702.0 L973.1,1703.7 L976.8,1705.4 L980.4,1707.0 L984.0,1708.7 L987.6,1710.4 L991.3,1712.0 L994.9,1713.7 L998.5,1715.4 L1002.1,1717.0 L1005.7,1718.7 L1009.4,1720.4 L1013.0,1722.0 L1016.6,1723.6 L1020.2,1725.3 L1023.9,1726.9 L1027.5,1728.5 L1031.1,1730.1 L1034.7,1731.7 L1038.3,1733.3 L1042.0,1734.9 L1045.6,1736.4 L1049.2,1738.0 L1052.8,1739.5 L1056.5,1741.0 L1060.1,1742.5 L1063.7,1744.0 L1067.3,1745.4 L1070.9,1746.8 L1074.6,1748.2 L1078.2,1749.6 L1081.8,1751.0 L1085.4,1752.3 L1089.1,1753.6 L1092.7,1754.9 L1096.3,1756.2 L1099.9,1757.5 L1103.5,1758.7 L1107.2,1759.9 L1110.8,1761.2 L1114.4,1762.4 L1118.0,1763.5 L1121.7,1764.7 L1125.3,1765.9 L1128.9,1767.0 L1132.5,1768.2 L1136.1,1769.3 L1139.8,1770.5 L1143.4,1771.6 L1147.0,1772.7 L1150.6,1773.9 L1154.3,1775.0 L1157.9,1776.1 L1161.5,1777.3 L1165.1,1778.4 L1168.7,1779.6 L1172.4,1780.7 L1176.0,1781.9 L1179.6,1783.0 L1183.2,1784.2 L1186.9,1785.4 L1190.5,1786.6 L1194.1,1787.8 L1197.7,1789.0 L1201.3,1790.2 L1205.0,1791.5 L1208.6,1792.7 L1212.2,1794.0 L1215.8,1795.3 L1219.4,1796.6 L1223.1,1798.0 L1226.7,1799.3 L1230.3,1800.7 L1233.9,1802.1 L1237.6,1803.5 L1241.2,1805.0 L1244.8,1806.4 L1248.4,1807.9 L1252.0,1809.3 L1255.7,1810.8 L1259.3,1812.3 L1262.9,1813.8 L1266.5,1815.3 L1270.2,1816.8 L1273.8,1818.4 L1277.4,1819.9 L1281.0,1821.4 L1284.6,1822.9 L1288.3,1824.5 L1291.9,1826.0 L1295.5,1827.6 L1299.1,1829.1 L1302.8,1830.7 L1306.4,1832.2 L1310.0,1833.7 L1313.6,1835.3 L1317.2,1836.8 L1320.9,1838.3 L1324.5,1839.8 L1328.1,1841.3 L1331.7,1842.8 L1335.4,1844.3 L1339.0,1845.8 L1342.6,1847.3" fill="none" stroke="#000" stroke-width="3.4" stroke-linejoin="round"/>
<line x1="257.8" y1="1478.3" x2="1342.6" y2="1478.3" stroke="#000" stroke-width="3.2" stroke-linecap="round" stroke-dasharray="3.2 20.38"/>
<line x1="328.4" y1="1658" x2="846" y2="1658" stroke="#000" stroke-width="3" stroke-dasharray="3.05 3.05"/>
<line x1="563.8" y1="1468" x2="563.8" y2="1731.5" stroke="#000" stroke-width="3" stroke-dasharray="3.05 3.05"/>
<line x1="758.6" y1="1345" x2="758.6" y2="1478.5" stroke="#000" stroke-width="3" stroke-dasharray="3.05 3.05"/>
<line x1="824.8" y1="1423.9" x2="979" y2="1423.9" stroke="#000" stroke-width="3" stroke-dasharray="3.05 3.05"/>
<line x1="855.6" y1="1083.3" x2="855.6" y2="1877.7" stroke="#000" stroke-width="3.6" stroke-linecap="round" stroke-dasharray="16.2 23.2"/>
<line x1="361.5" y1="1497.5" x2="361.5" y2="1638.1" stroke="#000" stroke-width="4.8"/>
<path d="M361.5,1654.1 L348.0,1627.1 L361.5,1637.1 L375.0,1627.1 Z" fill="#000"/>
<path d="M361.5,1481.5 L375.0,1508.5 L361.5,1498.5 L348.0,1508.5 Z" fill="#000"/>
<line x1="580.9" y1="1692.4" x2="834.9" y2="1692.4" stroke="#000" stroke-width="5"/>
<path d="M851.2,1692.4 L823.9,1706.0 L833.9,1692.4 L823.9,1678.8 Z" fill="#000"/>
<path d="M564.6,1692.4 L591.9,1678.8 L581.9,1692.4 L591.9,1706.0 Z" fill="#000"/>
<line x1="768.2" y1="1358.2" x2="840.7" y2="1358.2" stroke="#000" stroke-width="4.8"/>
<path d="M850.7,1358.2 L834.2,1366.7 L839.7,1358.2 L834.2,1349.7 Z" fill="#000"/>
<path d="M758.2,1358.2 L774.7,1349.7 L769.2,1358.2 L774.7,1366.7 Z" fill="#000"/>
<line x1="967.4" y1="1435.0" x2="967.4" y2="1470.2" stroke="#000" stroke-width="4.6"/>
<path d="M967.4,1479.5 L959.1,1464.2 L967.4,1469.2 L975.7,1464.2 Z" fill="#000"/>
<path d="M967.4,1425.7 L975.7,1441.0 L967.4,1436.0 L959.1,1441.0 Z" fill="#000"/>
<rect x="259.6" y="1081.5" width="1083.0" height="796.2" fill="none" stroke="#000" stroke-width="3.4"/>
<g stroke="#000" stroke-width="3.4" stroke-linecap="round">
<line x1="259.6" y1="1877.7" x2="259.6" y2="1892.8"/>
<line x1="259.6" y1="1081.5" x2="259.6" y2="1097.0"/>
<line x1="530.4" y1="1877.7" x2="530.4" y2="1892.8"/>
<line x1="530.4" y1="1081.5" x2="530.4" y2="1097.0"/>
<line x1="801.1" y1="1877.7" x2="801.1" y2="1892.8"/>
<line x1="801.1" y1="1081.5" x2="801.1" y2="1097.0"/>
<line x1="1071.8" y1="1877.7" x2="1071.8" y2="1892.8"/>
<line x1="1071.8" y1="1081.5" x2="1071.8" y2="1097.0"/>
<line x1="1342.6" y1="1877.7" x2="1342.6" y2="1892.8"/>
<line x1="1342.6" y1="1081.5" x2="1342.6" y2="1097.0"/>
<line x1="395.0" y1="1877.7" x2="395.0" y2="1885.5"/>
<line x1="395.0" y1="1081.5" x2="395.0" y2="1089.0"/>
<line x1="665.7" y1="1877.7" x2="665.7" y2="1885.5"/>
<line x1="665.7" y1="1081.5" x2="665.7" y2="1089.0"/>
<line x1="936.5" y1="1877.7" x2="936.5" y2="1885.5"/>
<line x1="936.5" y1="1081.5" x2="936.5" y2="1089.0"/>
<line x1="1207.2" y1="1877.7" x2="1207.2" y2="1885.5"/>
<line x1="1207.2" y1="1081.5" x2="1207.2" y2="1089.0"/>
<line x1="243.3" y1="1877.7" x2="259.6" y2="1877.7"/>
<line x1="1327.7" y1="1877.7" x2="1342.6" y2="1877.7"/>
<line x1="243.3" y1="1745.0" x2="259.6" y2="1745.0"/>
<line x1="1327.7" y1="1745.0" x2="1342.6" y2="1745.0"/>
<line x1="243.3" y1="1612.3" x2="259.6" y2="1612.3"/>
<line x1="1327.7" y1="1612.3" x2="1342.6" y2="1612.3"/>
<line x1="243.3" y1="1479.6" x2="259.6" y2="1479.6"/>
<line x1="1327.7" y1="1479.6" x2="1342.6" y2="1479.6"/>
<line x1="243.3" y1="1346.9" x2="259.6" y2="1346.9"/>
<line x1="1327.7" y1="1346.9" x2="1342.6" y2="1346.9"/>
<line x1="243.3" y1="1214.2" x2="259.6" y2="1214.2"/>
<line x1="1327.7" y1="1214.2" x2="1342.6" y2="1214.2"/>
<line x1="243.3" y1="1081.5" x2="259.6" y2="1081.5"/>
<line x1="1327.7" y1="1081.5" x2="1342.6" y2="1081.5"/>
<line x1="251.7" y1="1811.3" x2="259.6" y2="1811.3"/>
<line x1="1334.7" y1="1811.3" x2="1342.6" y2="1811.3"/>
<line x1="251.7" y1="1678.6" x2="259.6" y2="1678.6"/>
<line x1="1334.7" y1="1678.6" x2="1342.6" y2="1678.6"/>
<line x1="251.7" y1="1545.9" x2="259.6" y2="1545.9"/>
<line x1="1334.7" y1="1545.9" x2="1342.6" y2="1545.9"/>
<line x1="251.7" y1="1413.2" x2="259.6" y2="1413.2"/>
<line x1="1334.7" y1="1413.2" x2="1342.6" y2="1413.2"/>
<line x1="251.7" y1="1280.5" x2="259.6" y2="1280.5"/>
<line x1="1334.7" y1="1280.5" x2="1342.6" y2="1280.5"/>
<line x1="251.7" y1="1147.8" x2="259.6" y2="1147.8"/>
<line x1="1334.7" y1="1147.8" x2="1342.6" y2="1147.8"/>
</g>
<rect x="259.6" y="1081.5" width="1083.0" height="796.2" fill="none" stroke="#000" stroke-width="3.4"/>
<path fill="#000" fill-rule="evenodd" d="M20.0,17.8 C23.5,15.6 27.5,14.8 31.5,14.8 C40.5,14.8 45.7,18.5 45.7,26.5 L45.7,48.4 L39.7,48.4 L39.4,45.2 C37.2,47.7 33.8,49.2 29.2,49.2 C22.6,49.2 18.2,45.5 18.2,39.6 C18.2,33.2 23.8,29.2 32.5,29.2 L39.3,29.2 L39.3,27.2 C39.3,22.8 36.5,20.6 31.3,20.6 C27.7,20.6 24.2,21.6 21.2,23.4 Z M39.3,33.6 L33.3,33.6 C28.1,33.6 25.6,35.6 25.6,39.0 C25.6,42.2 27.6,43.9 30.6,43.9 C35.2,43.9 39.3,41.0 39.3,37.5 Z"/>
<path fill="#000" fill-rule="evenodd" d="M20.1,1066 C20.1,1064.5 21.5,1063.8 24,1063.8 C26.6,1063.8 28,1064.5 28,1066 L28,1082 C30.5,1079.5 34,1078 38,1078 C45.5,1078 50.2,1083.5 50.2,1094.3 C50.2,1105.5 44.5,1111.9 35.9,1111.9 C32,1111.9 28.8,1110.5 26.6,1108 L26.2,1111.5 L20.1,1111.5 Z M28,1090 L28,1101.5 C29.7,1104.5 32.3,1106.1 35.2,1106.1 C39.8,1106.1 42.3,1101.8 42.3,1094.7 C42.3,1088 40,1084 35.8,1084 C32.8,1084 30,1086 28,1090 Z"/>
<rect x="1167.7" y="206.5" width="27.8" height="2.9" fill="#000"/><rect x="1180.2" y="194" width="2.9" height="28" fill="#000"/>
<rect x="1167.7" y="744.8" width="27.8" height="3.0" fill="#000"/>
<rect x="1121" y="1190.7" width="27.7" height="3" fill="#000"/><rect x="1121" y="1200.5" width="27.7" height="3" fill="#000"/>
<rect x="1164.4" y="1195.4" width="27.2" height="3" fill="#000"/><rect x="1176.5" y="1182.8" width="3" height="27.2" fill="#000"/>
<rect x="1163.6" y="1737.7" width="27.2" height="2.9" fill="#000"/>
<rect x="283.4" y="1690.6" width="20.5" height="3.2" fill="#000"/>
<rect x="638.6" y="1147.2" width="26.7" height="3.2" fill="#000"/>
<text x="151.3" y="175.2" font-size="58">1.5</text>
<text x="151.1" y="440.9" font-size="58">1.0</text>
<text x="151.3" y="706.6" font-size="58">0.5</text>
<text x="151.2" y="1098.5" font-size="58">0.6</text>
<text x="150.4" y="1231.2" font-size="58">0.4</text>
<text x="151.6" y="1363.9" font-size="58">0.2</text>
<text x="150.9" y="1496.6" font-size="58">0.0</text>
<text x="132.3" y="1629.3" font-size="58">-0.2</text>
<text x="131.1" y="1762.0" font-size="58">-0.4</text>
<text x="131.9" y="1894.7" font-size="58">-0.6</text>
<text x="202.6" y="895.2" font-size="58">1.90</text>
<text x="201.6" y="1950.5" font-size="58">1.90</text>
<text x="473.4" y="895.2" font-size="58">1.95</text>
<text x="472.4" y="1950.5" font-size="58">1.95</text>
<text x="744.8" y="895.2" font-size="58">2.00</text>
<text x="743.8" y="1950.5" font-size="58">2.00</text>
<text x="1015.7" y="895.2" font-size="58">2.05</text>
<text x="1014.7" y="1950.5" font-size="58">2.05</text>
<text x="1286.3" y="895.2" font-size="58">2.10</text>
<text x="1285.3" y="1950.5" font-size="58">2.10</text>
<text x="585.4" y="991.9" font-size="59">Line Profile (<tspan font-family="Liberation Serif">&#956;</tspan>m)</text>
<text x="585.4" y="2048.0" font-size="59">Line Profile (<tspan font-family="Liberation Serif">&#956;</tspan>m)</text>
<text transform="translate(75.1,527.1) rotate(-90)" font-size="58">V</text>
<text transform="translate(95.6,487.9) rotate(-90)" font-size="34.5">CPD</text>
<text transform="translate(75.1,398.2) rotate(-90)" font-size="58">(V)</text>
<text transform="translate(57.9,1587.4) rotate(-90)" font-size="58">ΔV</text>
<text transform="translate(78.0,1510.6) rotate(-90)" font-size="34.5">CPD</text>
<text transform="translate(57.9,1420.0) rotate(-90)" font-size="58">(V)</text>
<text x="1195.8" y="221.7" font-size="56">2</text>
<text x="1167.4" y="502.8" font-size="55.5">V</text>
<text x="1202.8" y="521.4" font-size="33">g</text>
<text x="1236.4" y="502.8" font-size="54.5">=</text>
<text x="1282.8" y="502.8" font-size="54.5">0</text>
<text x="1195.5" y="760.0" font-size="56">2</text>
<text x="575.2" y="777.6" font-size="54">Channel</text>
<text x="920.6" y="777.6" font-size="54">SiC</text>
<text x="612.8" y="377.3" font-size="37.5" letter-spacing="1.46">60 nm</text>
<text x="447.2" y="428.4" font-size="37.5" letter-spacing="1.29">inherent doping</text>
<text x="1050.8" y="1210.0" font-size="55.5">V</text>
<text x="1086.8" y="1228.1" font-size="33">g</text>
<text x="1191.7" y="1210.0" font-size="56">2</text>
<text x="1191.7" y="1753.0" font-size="56">2</text>
<text x="577.5" y="1832.5" font-size="54">Channel</text>
<text x="924.1" y="1832.5" font-size="54">SiC</text>
<text x="727.3" y="1326.8" font-size="36.5" letter-spacing="1.60">20 nm</text>
<text x="994.6" y="1463.4" font-size="36.5" letter-spacing="0.61">80 mV</text>
<text x="305.1" y="1704.3" font-size="36.5">2</text>
<text x="329.1" y="1704.3" font-size="36.5">7</text>
<text x="348.2" y="1704.3" font-size="36.5">0</text>
<text x="378.5" y="1704.3" font-size="36.5">m</text>
<text x="413.8" y="1704.3" font-size="36.5">V</text>
<text x="652.5" y="1741.0" font-size="36.5" letter-spacing="1.51">55 nm</text>
<text x="284.2" y="1162.6" font-size="46">Δ</text>
<text x="313.7" y="1162.6" font-size="46" font-style="italic">V</text>
<text x="345.7" y="1176.2" font-size="30" font-style="italic" letter-spacing="-2.61">CPD</text>
<text x="417.6" y="1163.2" font-size="46">=</text>
<text x="457.4" y="1162.6" font-size="46" font-style="italic">V</text>
<text x="488.5" y="1176.2" font-size="30" font-style="italic" letter-spacing="-2.61">CPD</text>
<text x="545.3" y="1162.6" font-size="47">(</text>
<text x="563.7" y="1162.6" font-size="46" font-style="italic">V</text>
<text x="592.3" y="1174.8" font-size="30" font-style="italic">g</text>
<text x="613.6" y="1162.6" font-size="47">)</text>
<text x="679.8" y="1162.6" font-size="46" font-style="italic">V</text>
<text x="709.8" y="1176.2" font-size="30" font-style="italic" letter-spacing="-2.11">CPD</text>
<text x="770.2" y="1162.6" font-size="47">(0)</text>
</svg>
</body></html>
